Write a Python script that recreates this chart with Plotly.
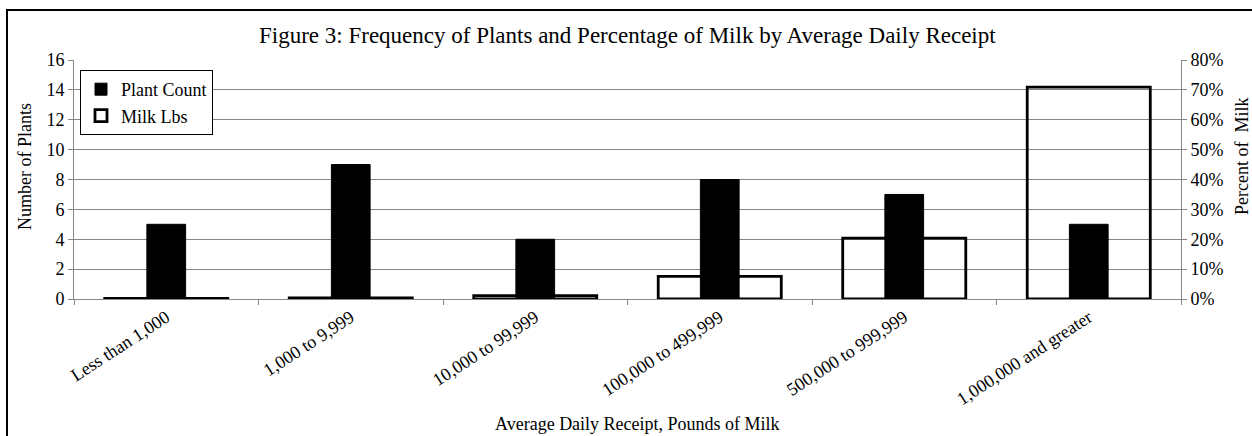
import plotly.graph_objects as go

# Receipt size classes (pounds of milk per day)
categories = [
    "Less than 1,000",
    "1,000 to 9,999",
    "10,000 to 99,999",
    "100,000 to 499,999",
    "500,000 to 999,999",
    "1,000,000 and greater",
]
plant_count = [5, 9, 4, 8, 7, 5]
milk_pct = [0.2, 0.4, 1.1, 7.6, 20.4, 70.9]

left_ticks = list(range(0, 17, 2))
right_ticks = list(range(0, 81, 10))

FONT = "Liberation Serif, Times New Roman, serif"
GRID = "#868686"

# plot-area placement in pixels
W, H = 1252, 436
L, R, T, B = 74, 71, 60, 137
pw, ph = W - L - R, H - T - B


def px_x(x):
    return (x - L) / pw


def px_y(y):
    return 1 - (y - T) / ph


fig = go.Figure()

# Milk share: hollow wide bars on the percentage axis (drawn underneath)
fig.add_trace(go.Bar(
    x=categories, y=milk_pct, name="Milk Lbs", yaxis="y",
    width=0.667,
    marker=dict(color="rgba(0,0,0,0)", line=dict(color="black", width=2.8)),
    legendrank=2,
))

# Plant counts: narrow solid bars on the count axis (drawn on top)
fig.add_trace(go.Bar(
    x=categories, y=plant_count, name="Plant Count", yaxis="y2",
    width=0.21,
    marker=dict(color="black", line=dict(color="black", width=1)),
    legendrank=1,
))

fig.update_layout(
    width=W, height=H,
    margin=dict(l=L, r=R, t=T, b=B, autoexpand=False),
    paper_bgcolor="white", plot_bgcolor="white",
    font=dict(family=FONT, size=18, color="black"),
    barmode="overlay",
    showlegend=True,
    legend=dict(
        x=px_x(80), y=px_y(70), xanchor="left", yanchor="top",
        bordercolor="black", borderwidth=1, bgcolor="white",
        font=dict(family=FONT, size=18), tracegroupgap=0,
        itemwidth=30,
    ),
    xaxis=dict(
        type="category", categoryorder="array", categoryarray=categories,
        range=[-0.5, 5.5],
        showline=True, linecolor=GRID, linewidth=1,
        ticks="outside", tickson="boundaries", ticklen=5, tickcolor=GRID,
        tickangle=-33, tickfont=dict(family=FONT, size=18),
        showgrid=False, zeroline=False,
    ),
    yaxis=dict(
        side="right", range=[0, 80], tickvals=right_ticks,
        ticktext=[f"{v}%" for v in right_ticks],
        showline=True, linecolor=GRID, linewidth=1,
        ticks="outside", ticklen=5, tickcolor=GRID,
        showgrid=True, gridcolor=GRID, gridwidth=1, zeroline=False,
        tickfont=dict(family=FONT, size=18),
    ),
    yaxis2=dict(
        side="left", overlaying="y", range=[0, 16], tickvals=left_ticks,
        showline=True, linecolor=GRID, linewidth=1,
        ticks="outside", ticklen=5, tickcolor=GRID,
        showgrid=False, zeroline=False,
        tickfont=dict(family=FONT, size=18),
    ),
    shapes=[
        # outer chart frame
        dict(type="rect", xref="paper", yref="paper",
             x0=px_x(7), x1=px_x(1270), y0=px_y(450), y1=px_y(10),
             line=dict(color="black", width=2), fillcolor="rgba(0,0,0,0)",
             layer="below"),
    ],
    annotations=[
        dict(text="Figure 3: Frequency of Plants and Percentage of Milk by Average Daily Receipt",
             xref="paper", yref="paper", x=px_x(627), y=px_y(36),
             xanchor="center", yanchor="middle", showarrow=False,
             font=dict(family=FONT, size=23)),
        dict(text="Average Daily Receipt, Pounds of Milk",
             xref="paper", yref="paper", x=px_x(637), y=px_y(424),
             xanchor="center", yanchor="middle", showarrow=False,
             font=dict(family=FONT, size=18)),
        dict(text="Number of Plants", textangle=-90,
             xref="paper", yref="paper", x=px_x(25), y=px_y(167),
             xanchor="center", yanchor="middle", showarrow=False,
             font=dict(family=FONT, size=18)),
        dict(text="Percent of\u00a0 Milk", textangle=-90,
             xref="paper", yref="paper", x=px_x(1242), y=px_y(156),
             xanchor="center", yanchor="middle", showarrow=False,
             font=dict(family=FONT, size=18)),
    ],
)

fig.write_html("out.html")
